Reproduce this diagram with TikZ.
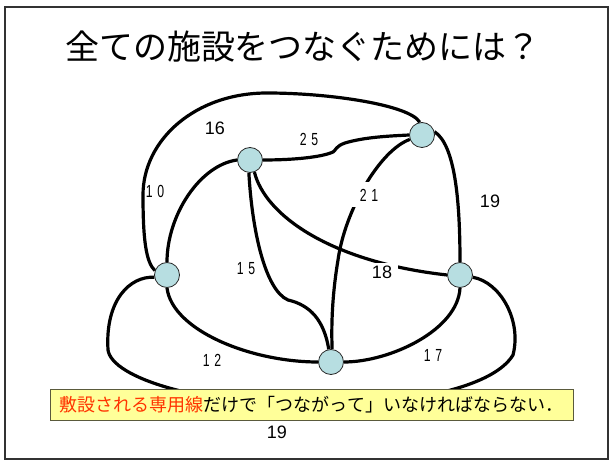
\documentclass[tikz,border=0pt]{standalone}
\usepackage{fontspec}
\usepackage{graphicx}
\setmainfont{Liberation Sans}
\newfontfamily\jp{Noto Sans CJK JP}
\definecolor{nodefill}{RGB}{183,222,225}
\definecolor{boxfill}{RGB}{255,255,153}
\definecolor{boxline}{RGB}{90,90,60}
\definecolor{redtext}{RGB}{255,51,0}
\definecolor{framecol}{RGB}{50,50,50}
\newcommand{\sd}[2]{\scalebox{0.7}[1]{#1}\hspace{4.5pt}\scalebox{0.7}[1]{#2}}
\pgfdeclarelayer{bg}
\pgfsetlayers{bg,main}
\begin{document}
\begin{tikzpicture}[x=1pt,y=-1pt,
  site/.style={circle, draw=black!85, line width=0.8pt, fill=nodefill, minimum size=25pt, inner sep=0pt},
  link/.style={line width=3.2pt, black},
  wlab/.style={font=\fontsize{18}{18}\selectfont, inner sep=0pt},
  slab/.style={font=\fontsize{17.5}{17.5}\selectfont, inner sep=0pt},
]
\useasboundingbox (0,0) rectangle (611,462);
\draw[framecol, line width=1.5pt] (5,7) rectangle (608,459);

\node[font=\jp\fontsize{34}{34}\selectfont, inner sep=0pt] (title) at (303,47) {全ての施設をつなぐためには？};

\node[site] (A) at (250,160) {};
\node[site] (B) at (422,135) {};
\node[site] (C) at (167,275) {};
\node[site] (D) at (460,275) {};
\node[site] (E) at (331,362) {};

\node[wlab] (l16) at (215,128) {16};
\node[slab] (l25) at (309,139) {\sd25};
\node[slab] (l10) at (155,191) {\sd10};
\node[slab, fill=white, minimum width=34pt, minimum height=25pt] (l21) at (369,195) {\sd21};
\node[wlab] (l19a) at (490,201) {19};
\node[slab] (l15) at (246,269) {\sd15};
\node[wlab, fill=white, minimum width=32pt, minimum height=18pt] (l18) at (382,272) {18};
\node[slab] (l12) at (212,360) {\sd12};
\node[slab] (l17) at (433,355) {\sd17};

\begin{pgfonlayer}{bg}
\draw[link] (A.east) .. controls (295,160) and (322,157) .. (333,152) .. controls (336,150) and (336,146) .. (345,143) .. controls (365,137) and (390,136) .. (B.west);
\draw[link] (A.west) .. controls (200,165) and (167,215) .. (C.north);
\draw[link] (B.100) .. controls (410,105) and (330,93) .. (267,93) .. controls (195,93) and (143,140) .. (143,195) .. controls (143,240) and (146,262) .. (C.160);
\draw[link] (B.15) .. controls (455,145) and (460,200) .. (D.north);
\draw[link] (B.200) .. controls (380,150) and (345,210) .. (338,260) .. controls (333,290) and (331,320) .. (E.85);
\draw[link] (A.265) .. controls (252,230) and (265,290) .. (288,300) .. controls (310,305) and (324,320) .. (E.100);
\draw[link] (A.290) .. controls (265,215) and (330,262) .. (D.west);
\draw[link] (C.south) .. controls (172,330) and (250,362) .. (E.west);
\draw[link] (D.south) .. controls (458,330) and (390,362) .. (E.east);
\draw[link] (C.190) .. controls (130,276) and (105,300) .. (108,350) .. controls (112,378) and (200,405) .. (310,405) .. controls (420,405) and (495,385) .. (513,355) .. controls (522,320) and (500,282) .. (D.350);
\end{pgfonlayer}

\node[draw=boxline, fill=boxfill, line width=0.8pt, minimum width=523pt, minimum height=31pt, inner sep=0pt, font=\jp\fontsize{18}{18}\selectfont] (note) at (311.5,404.5) {\textcolor{redtext}{敷設される専用線}だけで「つながって」いなければならない．};
\node[wlab] (l19b) at (277,432) {19};
\end{tikzpicture}
\end{document}
